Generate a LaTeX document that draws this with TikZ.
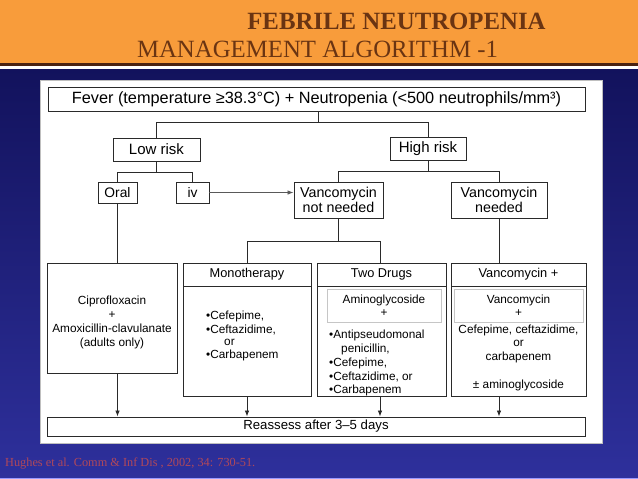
\documentclass[tikz,border=0pt]{standalone}
\usepackage{fontspec}
\setmainfont{Liberation Serif}
\newfontfamily\arial{Liberation Sans}
\usetikzlibrary{arrows.meta}
\definecolor{orangehd}{HTML}{F89C3B}
\definecolor{brownline}{HTML}{4A2212}
\definecolor{navytop}{HTML}{12125C}
\definecolor{navybot}{HTML}{2E309C}
\definecolor{titlebrown}{HTML}{6A3412}
\definecolor{citered}{HTML}{B0485A}
\definecolor{linegray}{HTML}{2A2A2A}
\tikzset{
  box/.style={draw=linegray, line width=0.9pt, fill=white, inner sep=0pt, font=\arial\fontsize{14}{15}\selectfont, align=center},
  hdr/.style={box, font=\arial\fontsize{12.8}{14}\selectfont},
  inner/.style={draw=gray!45, line width=0.7pt, inner sep=0pt},
  conn/.style={draw=linegray, line width=0.8pt},
  arr/.style={conn, -{Latex[length=6pt,width=4.5pt]}},
  small/.style={font=\arial\fontsize{11.8}{14}\selectfont, inner sep=0pt},
  smallc/.style={small, align=center},
  smalll/.style={small, align=left, anchor=west},
}
\begin{document}
\begin{tikzpicture}[x=1pt,y=-1pt]
\useasboundingbox (0,0) rectangle (638,479);
% background
\shade[top color=navytop, bottom color=navybot] (0,66) rectangle (638,479);
\fill[orangehd] (0,0) rectangle (638,63);
\fill[brownline] (0,63) rectangle (638,65.5);
\fill[white] (0,65.5) rectangle (638,68.5);
\fill[navytop] (0,68.5) rectangle (638,70);
\fill[blue!40!white] (0,477.5) rectangle (638,479);
% titles
\node[font=\bfseries\fontsize{24.8}{26}\selectfont, text=titlebrown] (t1) at (396.5,21) {FEBRILE NEUTROPENIA};
\node[font=\fontsize{24.8}{26}\selectfont, text=titlebrown] (t2) at (317.5,49) {MANAGEMENT ALGORITHM -1};
% white panel
\node[fill=white, draw=gray!50, line width=0.6pt, minimum width=562pt, minimum height=363pt, inner sep=0pt] (panel) at (321,261.5) {};
% top boxes
\node[box, minimum width=537pt, minimum height=24pt, font=\arial\fontsize{16.3}{18}\selectfont] (fever) at (316.5,99) {Fever (temperature ≥38.3°C) + Neutropenia (<500 neutrophils/mm³)};
\node[box, minimum width=87pt, minimum height=23pt, font=\arial\fontsize{15}{16}\selectfont] (low) at (156.5,149.5) {Low risk};
\node[box, minimum width=76pt, minimum height=23pt, font=\arial\fontsize{15}{16}\selectfont] (high) at (428,148.5) {High risk};
\node[box, minimum width=39pt, minimum height=21pt, font=\arial\fontsize{13.8}{15}\selectfont] (oral) at (117.5,192.5) {Oral};
\node[box, minimum width=33pt, minimum height=21pt, font=\arial\fontsize{13.8}{15}\selectfont] (iv) at (192.5,192.5) {iv};
\node[box, minimum width=89pt, minimum height=36pt, font=\arial\fontsize{14.3}{15}\selectfont] (vnn) at (338.5,200) {Vancomycin\\not needed};
\node[box, minimum width=96pt, minimum height=36pt, font=\arial\fontsize{14.3}{15}\selectfont] (vn) at (499,200) {Vancomycin\\needed};
% bottom boxes
\node[box, minimum width=130pt, minimum height=110pt] (cipro) at (112,318) {};
\node[hdr, minimum width=128pt, minimum height=23pt] (monoh) at (247,274.5) {Monotherapy};
\node[box, minimum width=128pt, minimum height=110pt] (monob) at (247,341) {};
\node[hdr, minimum width=129pt, minimum height=23pt] (twoh) at (381.5,274.5) {Two Drugs};
\node[box, minimum width=129pt, minimum height=110pt] (twob) at (381.5,341) {};
\node[hdr, minimum width=135pt, minimum height=23pt] (vph) at (518.5,274.5) {Vancomycin +};
\node[box, minimum width=135pt, minimum height=110pt] (vpb) at (518.5,341) {};
\node[inner, minimum width=114pt, minimum height=33pt] (twoin) at (384,305.5) {};
\node[inner, minimum width=129pt, minimum height=33pt] (vpin) at (518.5,305.5) {};
\node[hdr, minimum width=538pt, minimum height=19pt, font=\arial\fontsize{13.2}{14}\selectfont] (reas) at (316,426.5) {Reassess after 3–5 days};
% texts in boxes
\node[smallc] (ciprotx) at (112,322) {Ciprofloxacin\\+\\Amoxicillin-clavulanate\\(adults only)};
\node[smalll] (m1) at (206,316) {•Cefepime,};
\node[smalll] (m2) at (206,329.5) {•Ceftazidime,};
\node[smalll] (m3) at (224,342.5) {or};
\node[smalll] (m4) at (206,355.5) {•Carbapenem};
\node[smallc] (t1x) at (384,300) {Aminoglycoside};
\node[smallc] (t2x) at (384,313) {+};
\node[smalll] (t3) at (329,335) {•Antipseudomonal};
\node[smalll] (t4) at (341,349.5) {penicillin,};
\node[smalll] (t5) at (329,363) {•Cefepime,};
\node[smalll] (t6) at (329,377) {•Ceftazidime, or};
\node[smalll] (t7) at (329,390.5) {•Carbapenem};
\node[smallc] (v1) at (518.5,300) {Vancomycin};
\node[smallc] (v2) at (518.5,313) {+};
\node[smallc] (v3) at (518.5,330) {Cefepime, ceftazidime,};
\node[smallc] (v4) at (518.5,343.5) {or};
\node[smallc] (v5) at (518.5,357) {carbapenem};
\node[smallc] (v6) at (518.5,385) {± aminoglycoside};
% connectors
\coordinate (j1) at (318,122);
\coordinate (j2) at (156.5,172);
\coordinate (j3) at (428,171);
\coordinate (j4) at (338.5,241);
\draw[conn] (fever.south -| j1) -- (j1);
\draw[conn] (low.north) |- (j1);
\draw[conn] (high.north) |- (j1);
\draw[conn] (low.south) -- (j2);
\draw[conn] (oral.north) |- (j2);
\draw[conn] (iv.north) |- (j2);
\draw[conn] (high.south) -- (j3);
\draw[conn] (vnn.north) |- (j3);
\draw[conn] (vn.north) |- (j3);
\draw[arr, draw=gray!70!black] (iv.east) -- (iv.east -| vnn.west);
\draw[conn] (vnn.south) -- (j4);
\draw[conn] (monoh.north) |- (j4);
\draw[conn] (twoh.north -| 380,0) |- (j4);
\draw[conn] (vn.south) -- (vn.south |- vph.north);
\draw[conn] (oral.south) -- (oral.south |- cipro.north);
\draw[arr] (oral.south |- cipro.south) -- (oral.south |- reas.north);
\draw[arr] (monob.south) -- (monob.south |- reas.north);
\draw[arr] (twob.south -| 380,0) -- (reas.north -| 380,0);
\draw[arr] (vn.south |- vpb.south) -- (vn.south |- reas.north);
% citation
\node[anchor=west, font=\fontsize{12.3}{14}\selectfont, text=citered, inner sep=0pt] (cite) at (5,463.5) {Hughes et al. Comm \& Inf Dis , 2002, 34: 730-51.};
\end{tikzpicture}
\end{document}
